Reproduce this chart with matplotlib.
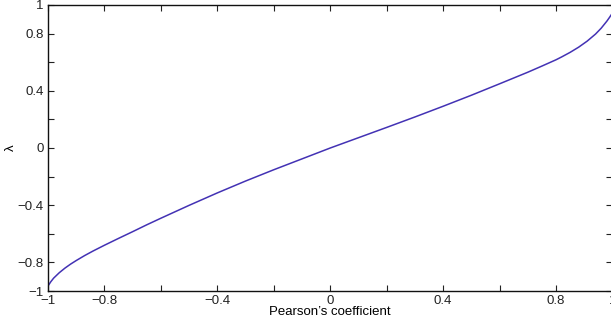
import matplotlib
matplotlib.use("Agg")
import matplotlib.pyplot as plt

pearson = [-1.0, -0.995, -0.99, -0.98, -0.96, -0.94, -0.92, -0.9, -0.87, -0.84, -0.8, -0.75,
           -0.7, -0.65, -0.6, -0.5, -0.4, -0.3, -0.2, -0.1, 0.0, 0.1, 0.2, 0.3,
           0.4, 0.5, 0.6, 0.7, 0.75, 0.8, 0.82, 0.85, 0.88, 0.91, 0.94, 0.96, 0.98, 0.99, 1.0]
lam = [-0.965, -0.95, -0.935, -0.91, -0.872, -0.84, -0.812, -0.787, -0.752, -0.72, -0.68, -0.632,
       -0.585, -0.537, -0.491, -0.401, -0.314, -0.231, -0.152, -0.076, 0.0, 0.072, 0.144, 0.217,
       0.292, 0.369, 0.449, 0.530, 0.573, 0.617, 0.637, 0.669, 0.705, 0.747, 0.797, 0.838, 0.887, 0.915, 0.945]

tick_vals = [-1, -0.8, -0.6, -0.4, -0.2, 0, 0.2, 0.4, 0.6, 0.8, 1]
tick_labels = ["\u22121", "\u22120.8", "", "\u22120.4", "", "0", "", "0.4", "", "0.8", "1"]

plt.rcParams['font.family'] = ['Liberation Sans', 'DejaVu Sans']

fig = plt.figure(figsize=(6.11, 3.26), dpi=100)
W, H = 611, 326
ax = fig.add_axes([48 / W, 35 / H, (612.5 - 48) / W, (291 - 5) / H])
ax.plot(pearson, lam, color='#4332b4', lw=1.1)
ax.set_xlim(-1, 1)
ax.set_ylim(-1, 1)
ax.set_xticks(tick_vals)
ax.set_xticklabels(tick_labels)
ax.set_yticks(tick_vals)
ax.set_yticklabels(tick_labels)
ax.tick_params(direction='in', length=4, width=0.8, labelsize=9.5, pad=3,
               top=True, right=True, colors='#222222')
for s in ax.spines.values():
    s.set_linewidth(1.0)
    s.set_color('#111111')
ax.set_xlabel("Pearson\u2019s coefficient", fontsize=9.5, labelpad=-1)
ax.set_ylabel("\u03bb", fontsize=9.5)
ax.yaxis.set_label_coords((17 - 48) / 564.5, 0.5)
fig.savefig("out.png", dpi=100)
